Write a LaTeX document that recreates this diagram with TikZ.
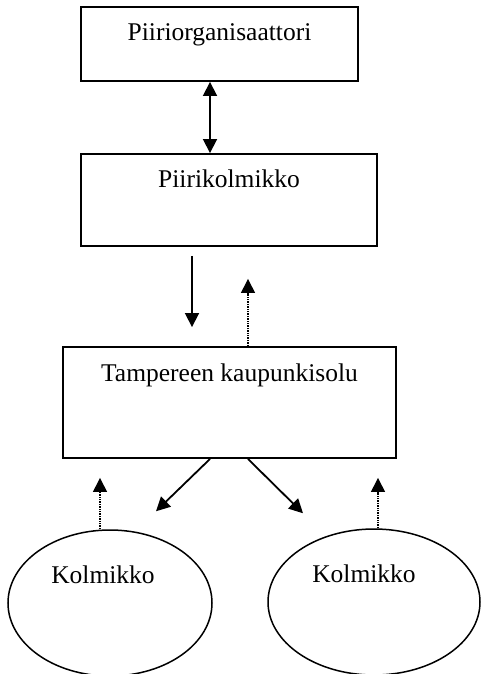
\documentclass[tikz,border=0pt]{standalone}
\usepackage{fontspec}
\setmainfont{Liberation Serif}
\usepackage{tikz}
\usetikzlibrary{shapes.geometric, arrows.meta}
\usetikzlibrary{calc}
\tikzstyle{box} = [draw, line width=1.9pt, rectangle, inner xsep=0pt, inner ysep=0pt, font=\fontsize{25.5}{30}\selectfont]
\tikzstyle{oval} = [draw, line width=1.5pt, ellipse, inner sep=0pt, minimum height=146pt, text height=12pt, text depth=52pt, font=\fontsize{25.5}{30}\selectfont]
\tikzstyle{arrow} = [line width=1.8pt,-{Triangle[length=14pt,width=14pt]}]
\tikzstyle{dblarrow} = [line width=1.8pt,{Triangle[length=14pt,width=14pt]}-{Triangle[length=14pt,width=14pt]}]
\tikzstyle{dotarrow} = [line width=1.4pt,densely dotted,-{Triangle[length=14pt,width=14pt]}]

\begin{document}
\begin{tikzpicture}[x=1pt,y=-1pt]
\useasboundingbox (0,0) rectangle (481,674);

\coordinate (po) at (219.5,44);
\coordinate (pk) at (229,200);
\coordinate (tks) at (229.5,402.5);
\coordinate (k1) at (110,603);
\coordinate (k2) at (374,602);

\node[box, minimum width=277pt, text height=34pt, text depth=40pt] (PO) at (po) {Piiriorganisaattori};
\node[box, minimum width=296pt, text height=33pt, text depth=59pt] (PK) at (pk) {Piirikolmikko};
\node[box, minimum width=333pt, text height=34pt, text depth=77pt] (TKS) at (tks) {Tampereen kaupunkisolu};
\node[oval, minimum width=204pt] (K1) at (k1) {Kolmikko\kern14pt};
\node[oval, minimum width=212pt] (K2) at (k2) {Kolmikko\kern20pt};

\draw [dblarrow] ([xshift=-9.5pt]PO.south) -- ([xshift=-19pt]PK.north);
\draw [arrow] ([xshift=-37pt,yshift=-9pt]PK.south) -- ([xshift=-37.5pt,yshift=19pt]TKS.north);
\draw [dotarrow] ([xshift=18.5pt]TKS.north) -- ([xshift=19pt,yshift=-32pt]PK.south);
\draw [arrow] ([xshift=-19.5pt]TKS.south) -- ($(K1.north)+(46,-18)$);
\draw [arrow] ([xshift=18.5pt]TKS.south) -- ($(K2.north)+(-71,-15)$);
\draw [dotarrow] ([xshift=-10pt]K1.north) -- ([xshift=-129.5pt,yshift=-19pt]TKS.south);
\draw [dotarrow] ([xshift=4pt]K2.north) -- ([xshift=148.5pt,yshift=-19pt]TKS.south);

\end{tikzpicture}
\end{document}
